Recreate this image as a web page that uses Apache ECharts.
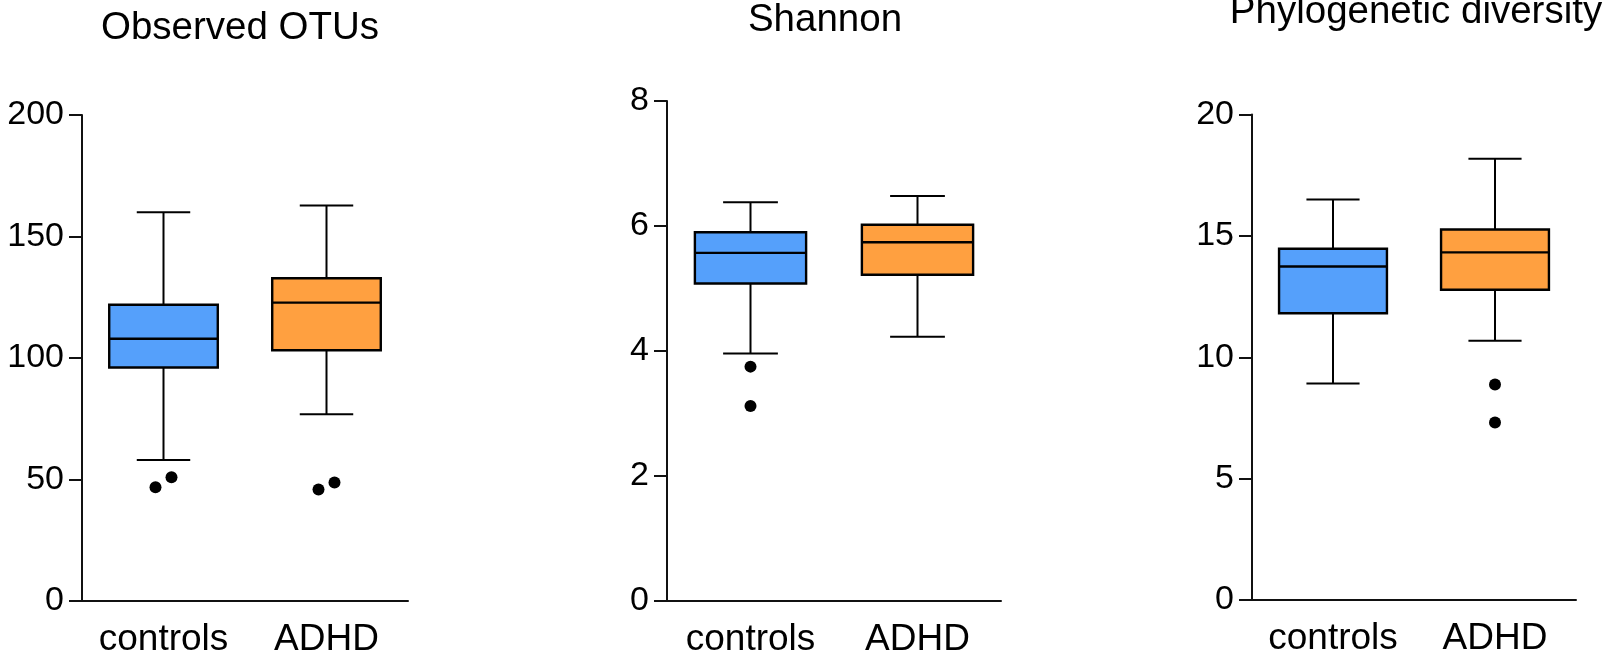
<!DOCTYPE html>
<html><head><meta charset="utf-8">
<script src="https://cdn.jsdelivr.net/npm/echarts@6/dist/echarts.min.js"></script>
<style>html,body{margin:0;padding:0;background:#fff}#c{width:1604px;height:658px}</style>
</head><body><div id="c"></div>
<script>
// ---------- data ----------
const categories = ['controls', 'ADHD'];
const titles = ['Observed OTUs', 'Shannon', 'Phylogenetic diversity'];

// boxes: [min, Q1, median, Q3, max] for controls and ADHD
const otuBoxes = [[58.0, 96.1, 107.9, 121.9, 160.0], [76.9, 103.2, 122.8, 132.8, 162.8]];
const otuOutliers = [[0, 46.8], [0, 50.9], [1, 45.9], [1, 48.8]];
const otuTicks = [0, 50, 100, 150, 200];

const shannonBoxes = [[3.96, 5.08, 5.57, 5.90, 6.38], [4.23, 5.22, 5.74, 6.02, 6.48]];
const shannonOutliers = [[0, 3.75], [0, 3.12]];
const shannonTicks = [0, 2, 4, 6, 8];

const pdBoxes = [[8.92, 11.81, 13.74, 14.47, 16.50], [10.68, 12.78, 14.32, 15.26, 18.18]];
const pdOutliers = [[1, 8.88], [1, 7.31]];
const pdTicks = [0, 5, 10, 15, 20];

// ---------- style / layout ----------
const groupColors = ['#55A0FB', '#FFA040'];
const FONT = '"Liberation Sans", Arial, sans-serif';
const panels = [
  { boxes: otuBoxes, outliers: otuOutliers, ticks: otuTicks, grid: { left: 82, right: 1196, top: 115, bottom: 55.5 }, dodge: 8,
    title: { x: 240, y: 28 } },
  { boxes: shannonBoxes, outliers: shannonOutliers, ticks: shannonTicks, grid: { left: 667, right: 603, top: 101, bottom: 56.5 }, dodge: 0,
    title: { x: 825, y: 20.5 } },
  { boxes: pdBoxes, outliers: pdOutliers, ticks: pdTicks, grid: { left: 1252, right: 28, top: 114.5, bottom: 58 }, dodge: 0,
    title: { x: 1416, y: 12 } }
];

function renderBox(params, api) {
  const xi = api.value(0);
  const mn = api.value(1), q1 = api.value(2), md = api.value(3), q3 = api.value(4), mx = api.value(5);
  const band = api.size([1, 0])[0];
  const bw = band * 0.666, cw = band * 0.328;
  const cx = api.coord([xi, md])[0];
  const y = v => api.coord([xi, v])[1];
  const ls = { stroke: '#000', lineWidth: 2 };
  return {
    type: 'group',
    children: [
      { type: 'line', shape: { x1: cx, y1: y(mx), x2: cx, y2: y(q3) }, style: ls },
      { type: 'line', shape: { x1: cx, y1: y(q1), x2: cx, y2: y(mn) }, style: ls },
      { type: 'line', shape: { x1: cx - cw / 2, y1: y(mx), x2: cx + cw / 2, y2: y(mx) }, style: ls },
      { type: 'line', shape: { x1: cx - cw / 2, y1: y(mn), x2: cx + cw / 2, y2: y(mn) }, style: ls },
      { type: 'rect', shape: { x: cx - bw / 2, y: y(q3), width: bw, height: y(q1) - y(q3) },
        style: { fill: groupColors[xi], stroke: '#000', lineWidth: 2.4 } },
      { type: 'line', shape: { x1: cx - bw / 2, y1: y(md), x2: cx + bw / 2, y2: y(md) }, style: { stroke: '#000', lineWidth: 2.4 } }
    ]
  };
}

const option = {
  animation: false,
  backgroundColor: '#fff',
  grid: [], xAxis: [], yAxis: [], series: [],
  graphic: []
};

panels.forEach((p, i) => {
  option.grid.push(Object.assign({ containLabel: false }, p.grid));
  option.xAxis.push({
    type: 'category', gridIndex: i, data: categories, boundaryGap: true,
    axisLine: { lineStyle: { color: '#111', width: 2 } },
    axisTick: { alignWithLabel: true, length: 11, lineStyle: { color: '#111', width: 2 } },
    axisLabel: { color: '#000', fontSize: 37, fontFamily: FONT, margin: 20, interval: 0 },
    splitLine: { show: false }
  });
  const t = p.ticks;
  option.yAxis.push({
    type: 'value', gridIndex: i, min: t[0], max: t[t.length - 1], interval: t[1] - t[0],
    axisLine: { show: true, lineStyle: { color: '#111', width: 2 } },
    axisTick: { show: true, length: 13, lineStyle: { color: '#111', width: 2 } },
    axisLabel: { color: '#000', fontSize: 34, fontFamily: FONT, margin: 18 },
    splitLine: { show: false }
  });
  option.series.push({
    type: 'custom', xAxisIndex: i, yAxisIndex: i,
    renderItem: renderBox,
    encode: { x: 0, y: [1, 2, 3, 4, 5] },
    data: p.boxes.map((b, k) => [k].concat(b)),
    z: 2
  });
  // dodge overlapping outliers left/right within a category
  const counters = {};
  const items = p.outliers.map(o => {
    const n = (counters[o[0]] = (counters[o[0]] || 0) + 1);
    const dx = p.dodge ? (n % 2 === 1 ? -p.dodge : p.dodge) : 0;
    return { value: o, symbolOffset: [dx, 0] };
  });
  option.series.push({
    type: 'scatter', xAxisIndex: i, yAxisIndex: i,
    symbol: 'circle', symbolSize: 12,
    itemStyle: { color: '#000', opacity: 1 },
    data: items, z: 3
  });
  option.graphic.push({
    type: 'text', x: p.title.x, y: p.title.y,
    style: { text: titles[i], fontSize: 38.5, fontFamily: FONT, fill: '#000', align: 'center', verticalAlign: 'middle' }
  });
});

const chart = echarts.init(document.getElementById('c'), null, { renderer: 'canvas' });
chart.setOption(option);
</script>
</body></html>
